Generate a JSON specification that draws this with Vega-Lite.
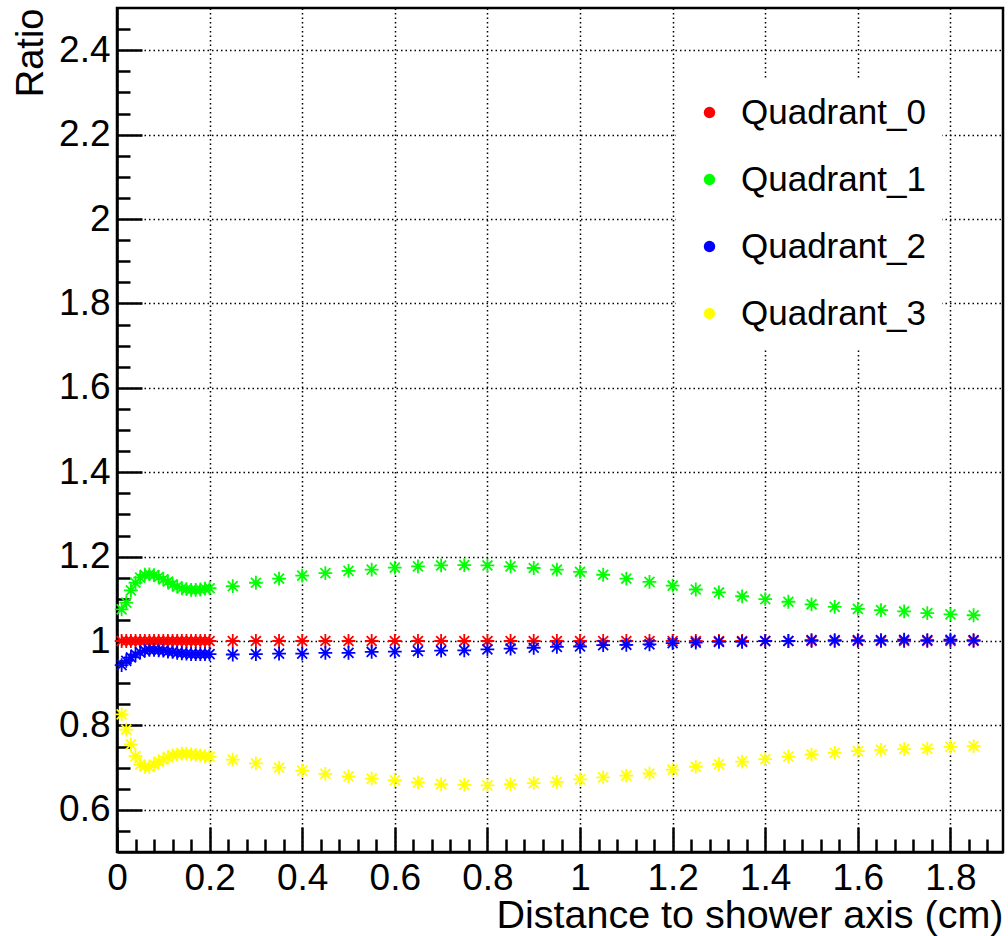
{
  "$schema": "https://vega.github.io/schema/vega-lite/v6.json",
  "width": 886,
  "height": 844,
  "autosize": {"type": "none"},
  "padding": {"left": 117, "top": 8, "right": 5, "bottom": 84},
  "background": "white",
  "config": {
    "view": {"stroke": "black", "strokeWidth": 2.5},
    "font": "Liberation Sans"
  },
  "data": {
    "values": [
      {"d": 0.01, "Quadrant_0": 1.0, "Quadrant_1": 1.075, "Quadrant_2": 0.943, "Quadrant_3": 0.826},
      {"d": 0.02, "Quadrant_0": 1.0, "Quadrant_1": 1.091, "Quadrant_2": 0.953, "Quadrant_3": 0.790},
      {"d": 0.03, "Quadrant_0": 1.0, "Quadrant_1": 1.120, "Quadrant_2": 0.961, "Quadrant_3": 0.755},
      {"d": 0.04, "Quadrant_0": 1.0, "Quadrant_1": 1.138, "Quadrant_2": 0.968, "Quadrant_3": 0.727},
      {"d": 0.05, "Quadrant_0": 1.0, "Quadrant_1": 1.150, "Quadrant_2": 0.973, "Quadrant_3": 0.707},
      {"d": 0.06, "Quadrant_0": 1.0, "Quadrant_1": 1.157, "Quadrant_2": 0.977, "Quadrant_3": 0.702},
      {"d": 0.07, "Quadrant_0": 1.0, "Quadrant_1": 1.158, "Quadrant_2": 0.979, "Quadrant_3": 0.701},
      {"d": 0.08, "Quadrant_0": 1.0, "Quadrant_1": 1.156, "Quadrant_2": 0.979, "Quadrant_3": 0.707},
      {"d": 0.09, "Quadrant_0": 1.0, "Quadrant_1": 1.152, "Quadrant_2": 0.978, "Quadrant_3": 0.714},
      {"d": 0.10, "Quadrant_0": 1.0, "Quadrant_1": 1.146, "Quadrant_2": 0.977, "Quadrant_3": 0.719},
      {"d": 0.11, "Quadrant_0": 1.0, "Quadrant_1": 1.141, "Quadrant_2": 0.975, "Quadrant_3": 0.725},
      {"d": 0.12, "Quadrant_0": 1.0, "Quadrant_1": 1.134, "Quadrant_2": 0.974, "Quadrant_3": 0.729},
      {"d": 0.13, "Quadrant_0": 1.0, "Quadrant_1": 1.129, "Quadrant_2": 0.972, "Quadrant_3": 0.731},
      {"d": 0.14, "Quadrant_0": 1.0, "Quadrant_1": 1.125, "Quadrant_2": 0.971, "Quadrant_3": 0.733},
      {"d": 0.15, "Quadrant_0": 1.0, "Quadrant_1": 1.123, "Quadrant_2": 0.970, "Quadrant_3": 0.733},
      {"d": 0.16, "Quadrant_0": 1.0, "Quadrant_1": 1.121, "Quadrant_2": 0.969, "Quadrant_3": 0.732},
      {"d": 0.17, "Quadrant_0": 1.0, "Quadrant_1": 1.121, "Quadrant_2": 0.969, "Quadrant_3": 0.730},
      {"d": 0.18, "Quadrant_0": 1.0, "Quadrant_1": 1.122, "Quadrant_2": 0.969, "Quadrant_3": 0.729},
      {"d": 0.19, "Quadrant_0": 1.0, "Quadrant_1": 1.124, "Quadrant_2": 0.969, "Quadrant_3": 0.727},
      {"d": 0.20, "Quadrant_0": 1.0, "Quadrant_1": 1.125, "Quadrant_2": 0.969, "Quadrant_3": 0.726},
      {"d": 0.25, "Quadrant_0": 1.0, "Quadrant_1": 1.130, "Quadrant_2": 0.968, "Quadrant_3": 0.719},
      {"d": 0.30, "Quadrant_0": 1.0, "Quadrant_1": 1.138, "Quadrant_2": 0.969, "Quadrant_3": 0.710},
      {"d": 0.35, "Quadrant_0": 1.0, "Quadrant_1": 1.148, "Quadrant_2": 0.970, "Quadrant_3": 0.700},
      {"d": 0.40, "Quadrant_0": 1.0, "Quadrant_1": 1.155, "Quadrant_2": 0.970, "Quadrant_3": 0.693},
      {"d": 0.45, "Quadrant_0": 1.0, "Quadrant_1": 1.161, "Quadrant_2": 0.972, "Quadrant_3": 0.685},
      {"d": 0.50, "Quadrant_0": 1.0, "Quadrant_1": 1.166, "Quadrant_2": 0.972, "Quadrant_3": 0.679},
      {"d": 0.55, "Quadrant_0": 1.0, "Quadrant_1": 1.169, "Quadrant_2": 0.974, "Quadrant_3": 0.674},
      {"d": 0.60, "Quadrant_0": 1.0, "Quadrant_1": 1.174, "Quadrant_2": 0.975, "Quadrant_3": 0.670},
      {"d": 0.65, "Quadrant_0": 1.0, "Quadrant_1": 1.177, "Quadrant_2": 0.976, "Quadrant_3": 0.665},
      {"d": 0.70, "Quadrant_0": 1.0, "Quadrant_1": 1.179, "Quadrant_2": 0.977, "Quadrant_3": 0.661},
      {"d": 0.75, "Quadrant_0": 1.0, "Quadrant_1": 1.180, "Quadrant_2": 0.978, "Quadrant_3": 0.659},
      {"d": 0.80, "Quadrant_0": 1.0, "Quadrant_1": 1.179, "Quadrant_2": 0.980, "Quadrant_3": 0.658},
      {"d": 0.85, "Quadrant_0": 1.0, "Quadrant_1": 1.177, "Quadrant_2": 0.982, "Quadrant_3": 0.661},
      {"d": 0.90, "Quadrant_0": 1.0, "Quadrant_1": 1.173, "Quadrant_2": 0.984, "Quadrant_3": 0.663},
      {"d": 0.95, "Quadrant_0": 1.0, "Quadrant_1": 1.169, "Quadrant_2": 0.986, "Quadrant_3": 0.666},
      {"d": 1.00, "Quadrant_0": 1.0, "Quadrant_1": 1.164, "Quadrant_2": 0.987, "Quadrant_3": 0.672},
      {"d": 1.05, "Quadrant_0": 1.0, "Quadrant_1": 1.157, "Quadrant_2": 0.990, "Quadrant_3": 0.677},
      {"d": 1.10, "Quadrant_0": 1.0, "Quadrant_1": 1.148, "Quadrant_2": 0.991, "Quadrant_3": 0.681},
      {"d": 1.15, "Quadrant_0": 1.0, "Quadrant_1": 1.140, "Quadrant_2": 0.992, "Quadrant_3": 0.686},
      {"d": 1.20, "Quadrant_0": 1.0, "Quadrant_1": 1.131, "Quadrant_2": 0.995, "Quadrant_3": 0.695},
      {"d": 1.25, "Quadrant_0": 1.0, "Quadrant_1": 1.122, "Quadrant_2": 0.996, "Quadrant_3": 0.702},
      {"d": 1.30, "Quadrant_0": 1.0, "Quadrant_1": 1.115, "Quadrant_2": 0.998, "Quadrant_3": 0.708},
      {"d": 1.35, "Quadrant_0": 1.0, "Quadrant_1": 1.106, "Quadrant_2": 0.998, "Quadrant_3": 0.714},
      {"d": 1.40, "Quadrant_0": 1.0, "Quadrant_1": 1.099, "Quadrant_2": 1.000, "Quadrant_3": 0.720},
      {"d": 1.45, "Quadrant_0": 1.0, "Quadrant_1": 1.093, "Quadrant_2": 1.000, "Quadrant_3": 0.726},
      {"d": 1.50, "Quadrant_0": 1.0, "Quadrant_1": 1.087, "Quadrant_2": 1.002, "Quadrant_3": 0.731},
      {"d": 1.55, "Quadrant_0": 1.0, "Quadrant_1": 1.081, "Quadrant_2": 1.002, "Quadrant_3": 0.735},
      {"d": 1.60, "Quadrant_0": 1.0, "Quadrant_1": 1.076, "Quadrant_2": 1.002, "Quadrant_3": 0.739},
      {"d": 1.65, "Quadrant_0": 1.0, "Quadrant_1": 1.073, "Quadrant_2": 1.002, "Quadrant_3": 0.742},
      {"d": 1.70, "Quadrant_0": 1.0, "Quadrant_1": 1.070, "Quadrant_2": 1.003, "Quadrant_3": 0.744},
      {"d": 1.75, "Quadrant_0": 1.0, "Quadrant_1": 1.066, "Quadrant_2": 1.002, "Quadrant_3": 0.745},
      {"d": 1.80, "Quadrant_0": 1.0, "Quadrant_1": 1.063, "Quadrant_2": 1.003, "Quadrant_3": 0.749},
      {"d": 1.85, "Quadrant_0": 1.0, "Quadrant_1": 1.061, "Quadrant_2": 1.002, "Quadrant_3": 0.751}
    ]
  },
  "transform": [
    {"fold": ["Quadrant_0", "Quadrant_1", "Quadrant_2", "Quadrant_3"], "as": ["series", "ratio"]}
  ],
  "layer": [
    {
      "mark": {
        "type": "point",
        "shape": "M0,-1L0,1M-1,0L1,0M-0.72,-0.72L0.72,0.72M-0.72,0.72L0.72,-0.72",
        "filled": true,
        "strokeWidth": 1.8,
        "size": 190,
        "opacity": 1
      },
      "encoding": {
        "x": {
          "field": "d",
          "type": "quantitative",
          "scale": {"domain": [0, 1.9135], "nice": false, "zero": false},
          "axis": {
            "orient": "bottom",
            "values": [0, 0.2, 0.4, 0.6, 0.8, 1, 1.2, 1.4, 1.6, 1.8],
            "format": "~g",
            "grid": true,
            "gridColor": "black",
            "gridDash": [1.5, 3],
            "gridWidth": 1.5,
            "gridOpacity": 1,
            "domainColor": "black",
            "domainWidth": 2.5,
            "tickColor": "black",
            "tickSize": -25,
            "tickWidth": 2.5,
            "labelFontSize": 37,
            "labelFont": "Liberation Sans",
            "labelColor": "black",
            "labelPadding": 62,
            "labelBaseline": "alphabetic",
            "labelFlush": false,
            "labelOverlap": false,
            "labelBound": false,
            "title": "Distance to shower axis (cm)",
            "titleFont": "Liberation Sans",
            "titleFontSize": 39.5,
            "titleFontWeight": "normal",
            "titleColor": "black",
            "titleAnchor": "end",
            "titleAlign": "right",
            "titleBaseline": "alphabetic",
            "titleLimit": 1000,
            "titleX": 886,
            "titleY": 75
          }
        },
        "y": {
          "field": "ratio",
          "type": "quantitative",
          "scale": {"domain": [0.5, 2.5], "nice": false, "zero": false},
          "axis": {
            "orient": "left",
            "values": [0.6, 0.8, 1, 1.2, 1.4, 1.6, 1.8, 2, 2.2, 2.4],
            "format": "~g",
            "grid": true,
            "gridColor": "black",
            "gridDash": [1.5, 3],
            "gridWidth": 1.5,
            "gridOpacity": 1,
            "domainColor": "black",
            "domainWidth": 2.5,
            "tickColor": "black",
            "tickSize": -25,
            "tickWidth": 2.5,
            "labelFontSize": 37,
            "labelFont": "Liberation Sans",
            "labelColor": "black",
            "labelPadding": 32,
            "labelAlign": "right",
            "labelBaseline": "middle",
            "labelFlush": false,
            "labelOverlap": false,
            "labelBound": false,
            "title": "Ratio",
            "titleFont": "Liberation Sans",
            "titleFontSize": 38,
            "titleFontWeight": "normal",
            "titleColor": "black",
            "titleAngle": 270,
            "titleAnchor": "end",
            "titleAlign": "right",
            "titleBaseline": "alphabetic",
            "titleX": -75,
            "titleY": 0
          }
        },
        "color": {
          "field": "series",
          "type": "nominal",
          "scale": {"domain": ["Quadrant_0", "Quadrant_1", "Quadrant_2", "Quadrant_3"], "range": ["#ff0000", "#00ff00", "#0000ff", "#ffff00"]},
          "legend": {
            "title": null,
            "orient": "none",
            "legendX": 559,
            "legendY": 71,
            "padding": 16,
            "fillColor": "white",
            "symbolType": "circle",
            "symbolSize": 130,
            "symbolStrokeWidth": 0,
            "symbolOpacity": 1,
            "labelFontSize": 35,
            "labelFont": "Liberation Sans",
            "labelColor": "black",
            "labelLimit": 400,
            "labelOffset": 14,
            "rowPadding": 31
          }
        },
        "stroke": {
          "field": "series",
          "type": "nominal",
          "scale": {"domain": ["Quadrant_0", "Quadrant_1", "Quadrant_2", "Quadrant_3"], "range": ["#ff0000", "#00ff00", "#0000ff", "#ffff00"]},
          "legend": {
            "title": null,
            "orient": "none",
            "legendX": 559,
            "legendY": 71,
            "padding": 16,
            "fillColor": "white",
            "symbolType": "circle",
            "symbolSize": 130,
            "symbolStrokeWidth": 0,
            "symbolOpacity": 1,
            "labelFontSize": 35,
            "labelFont": "Liberation Sans",
            "labelColor": "black",
            "labelLimit": 400,
            "labelOffset": 14,
            "rowPadding": 31
          }
        }
      }
    },
    {
      "mark": {"type": "point", "opacity": 0, "size": 0},
      "encoding": {
        "x": {
          "field": "d",
          "type": "quantitative",
          "axis": {
            "orient": "bottom",
            "values": [0.04, 0.08, 0.12, 0.16, 0.24, 0.28, 0.32, 0.36, 0.44, 0.48, 0.52, 0.56, 0.64, 0.68, 0.72, 0.76, 0.84, 0.88, 0.92, 0.96, 1.04, 1.08, 1.12, 1.16, 1.24, 1.28, 1.32, 1.36, 1.44, 1.48, 1.52, 1.56, 1.64, 1.68, 1.72, 1.76, 1.84, 1.88],
            "grid": false,
            "domain": false,
            "labels": false,
            "ticks": true,
            "tickColor": "black",
            "tickSize": -13,
            "tickWidth": 2.5,
            "title": null
          }
        },
        "y": {
          "field": "ratio",
          "type": "quantitative",
          "axis": {
            "orient": "left",
            "values": [0.55, 0.65, 0.7, 0.75, 0.85, 0.9, 0.95, 1.05, 1.1, 1.15, 1.25, 1.3, 1.35, 1.45, 1.5, 1.55, 1.65, 1.7, 1.75, 1.85, 1.9, 1.95, 2.05, 2.1, 2.15, 2.25, 2.3, 2.35, 2.45],
            "grid": false,
            "domain": false,
            "labels": false,
            "ticks": true,
            "tickColor": "black",
            "tickSize": -13,
            "tickWidth": 2.5,
            "title": null
          }
        }
      }
    }
  ],
  "resolve": {"axis": {"x": "independent", "y": "independent"}}
}
